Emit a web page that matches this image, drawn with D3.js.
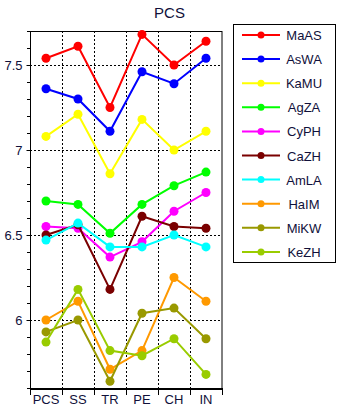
<!DOCTYPE html>
<html>
<head>
<meta charset="utf-8">
<script src="https://d3js.org/d3.v7.min.js"></script>
<style>
  body { margin: 0; background: #ffffff; }
  svg { display: block; font-family: Arial, "Liberation Sans", sans-serif; }
  .ink { fill: #10103a; }
</style>
</head>
<body>
<div id="chart"></div>
<script>

  // categories along the x axis
  var categories = ["PCS", "SS", "TR", "PE", "CH", "IN"]

  // series names in legend order
  var seriesNames = ["MaAS", "AsWA", "KaMU", "AgZA", "CyPH", "CaZH", "AmLA", "HaIM", "MiKW", "KeZH"]

  // line colours per series
  var seriesColors = ["#ff0000", "#0000ff", "#ffff00", "#00ff00", "#ff00ff",
                      "#7a0000", "#00ffff", "#ff9900", "#999900", "#99cc00"]

  // values per series, one per category
  var MaAS = [7.54, 7.61, 7.25, 7.68, 7.50, 7.64]
  var AsWA = [7.36, 7.30, 7.11, 7.46, 7.39, 7.54]
  var KaMU = [7.08, 7.21, 6.86, 7.18, 7.00, 7.11]
  var AgZA = [6.70, 6.68, 6.51, 6.68, 6.79, 6.87]
  var CyPH = [6.55, 6.54, 6.37, 6.46, 6.64, 6.75]
  var CaZH = [6.50, 6.56, 6.18, 6.61, 6.55, 6.54]
  var AmLA = [6.47, 6.57, 6.43, 6.43, 6.50, 6.43]
  var HaIM = [6.00, 6.11, 5.71, 5.82, 6.25, 6.11]
  var MiKW = [5.93, 6.00, 5.64, 6.04, 6.07, 5.89]
  var KeZH = [5.87, 6.18, 5.82, 5.79, 5.89, 5.68]

  // y ticks
  var yTicks = [6, 6.5, 7, 7.5]
  var yMinorTicks = d3.range(56, 78).map(function(d){ return d / 10; })

  var allValues = [MaAS, AsWA, KaMU, AgZA, CyPH, CaZH, AmLA, HaIM, MiKW, KeZH]

  var series = seriesNames.map(function(name, i){
    return { key: name, color: seriesColors[i], values: allValues[i] };
  })

  var totalWidth = 339, totalHeight = 412;
  var margin = {top: 31, right: 117, bottom: 24, left: 30},
      width = totalWidth - margin.left - margin.right,
      height = totalHeight - margin.top - margin.bottom;

  var svg = d3.select("#chart")
    .append("svg")
    .attr("width", totalWidth)
    .attr("height", totalHeight);

  // title over the full width
  svg.append("text")
    .attr("class", "ink")
    .attr("x", totalWidth / 2)
    .attr("y", 18)
    .style("text-anchor", "middle")
    .style("font-size", "15px")
    .text("PCS");

  var plot = svg.append("g")
    .attr("transform", "translate(" + margin.left + "," + margin.top + ")");

  // band scale for categories, linear for values
  var x = d3.scaleBand()
    .domain(categories)
    .range([0, width])
    .padding(0);

  var y = d3.scaleLinear()
    .domain([5.6, 7.7])
    .range([height, 0]);

  function cx(i){ return x(categories[i]) + x.bandwidth() / 2; }

  // box around plot area
  plot.append("rect")
    .attr("x", 0.5)
    .attr("y", 0.5)
    .attr("width", width - 0.5)
    .attr("height", height)
    .attr("fill", "none")
    .attr("stroke", "#000")
    .attr("stroke-width", 1);

  // dotted grid: horizontal at major ticks
  plot.selectAll(".hgrid")
    .data(yTicks)
  .enter().append("line")
    .attr("class", "hgrid")
    .attr("x1", 0)
    .attr("x2", width)
    .attr("y1", function(d){ return Math.round(y(d)) + 0.5; })
    .attr("y2", function(d){ return Math.round(y(d)) + 0.5; })
    .attr("stroke", "#000")
    .attr("stroke-dasharray", "2,2");

  // dotted grid: vertical at category boundaries
  plot.selectAll(".vgrid")
    .data(categories.slice(1))
  .enter().append("line")
    .attr("class", "vgrid")
    .attr("x1", function(d){ return Math.round(x(d)) + 0.5; })
    .attr("x2", function(d){ return Math.round(x(d)) + 0.5; })
    .attr("y1", 0)
    .attr("y2", height)
    .attr("stroke", "#000")
    .attr("stroke-dasharray", "2,2");

  // y axis with minor ticks
  var yAxis = d3.axisLeft(y)
    .tickValues(yTicks)
    .tickSize(4)
    .tickPadding(4)
    .tickFormat(function(d){ return d; });

  var yAxisG = plot.append("g")
    .attr("transform", "translate(0.5,0)")
    .call(yAxis);

  yAxisG.select(".domain").remove();
  yAxisG.selectAll("text")
    .attr("class", "ink")
    .attr("fill", null)
    .style("font-size", "13px")
    .style("font-family", "Arial, 'Liberation Sans', sans-serif");

  plot.selectAll(".minor")
    .data(yMinorTicks)
  .enter().append("line")
    .attr("class", "minor")
    .attr("x1", -3)
    .attr("x2", 0)
    .attr("y1", function(d){ return Math.round(y(d)) + 0.5; })
    .attr("y2", function(d){ return Math.round(y(d)) + 0.5; })
    .attr("stroke", "#000");

  // x axis labels at band centres
  var xAxis = d3.axisBottom(x)
    .tickSize(0)
    .tickPadding(7);

  var xAxisG = plot.append("g")
    .attr("transform", "translate(0," + height + ")")
    .call(xAxis);

  xAxisG.select(".domain").remove();
  xAxisG.selectAll("text")
    .attr("class", "ink")
    .attr("fill", null)
    .style("font-size", "13px")
    .style("font-family", "Arial, 'Liberation Sans', sans-serif");

  // boundary ticks below the x axis
  var edges = categories.map(function(d){ return x(d); }).concat([width]);
  plot.selectAll(".xtick")
    .data(edges)
  .enter().append("line")
    .attr("class", "xtick")
    .attr("x1", function(d){ return Math.round(d) + 0.5; })
    .attr("x2", function(d){ return Math.round(d) + 0.5; })
    .attr("y1", height)
    .attr("y2", height + 7)
    .attr("stroke", "#000");

  // thick bottom axis line
  plot.append("line")
    .attr("x1", 0)
    .attr("x2", width + 1)
    .attr("y1", height + 1)
    .attr("y2", height + 1)
    .attr("stroke", "#000")
    .attr("stroke-width", 2);

  // lines and markers, drawn in legend order
  var line = d3.line()
    .x(function(d, i){ return cx(i); })
    .y(function(d){ return y(d); });

  var groups = plot.selectAll(".series")
    .data(series)
  .enter().append("g")
    .attr("class", "series");

  groups.append("path")
    .attr("d", function(d){ return line(d.values); })
    .attr("fill", "none")
    .attr("stroke", function(d){ return d.color; })
    .attr("stroke-width", 2);

  groups.selectAll("circle")
    .data(function(d){ return d.values.map(function(v){ return {v: v, color: d.color}; }); })
  .enter().append("circle")
    .attr("cx", function(d, i){ return cx(i); })
    .attr("cy", function(d){ return y(d.v); })
    .attr("r", 4.5)
    .style("fill", function(d){ return d.color; });

  // legend box
  var legendX = 233, legendY = 24, rowGap = 24.1;

  svg.append("rect")
    .attr("x", legendX + 0.5)
    .attr("y", legendY + 0.5)
    .attr("width", 102)
    .attr("height", 238)
    .attr("fill", "#fff")
    .attr("stroke", "#000");

  var legend = svg.selectAll(".legend")
    .data(series)
  .enter().append("g")
    .attr("class", "legend")
    .attr("transform", function(d, i){ return "translate(0," + (35 + i * rowGap) + ")"; });

  legend.append("line")
    .attr("x1", 242)
    .attr("x2", 280)
    .attr("stroke", function(d){ return d.color; })
    .attr("stroke-width", 2);

  legend.append("circle")
    .attr("cx", 261)
    .attr("r", 3.5)
    .style("fill", function(d){ return d.color; });

  legend.append("text")
    .attr("class", "ink")
    .attr("x", 304)
    .attr("y", 5)
    .style("text-anchor", "middle")
    .style("font-size", "13px")
    .text(function(d){ return d.key; });

</script>
</body>
</html>
